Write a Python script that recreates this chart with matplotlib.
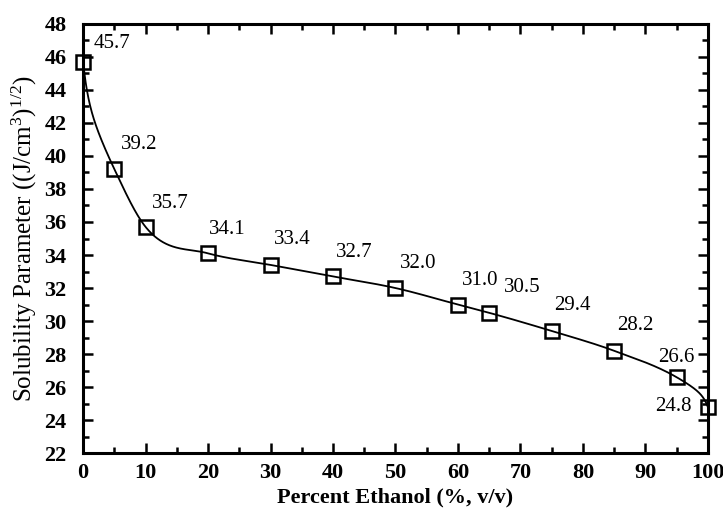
import numpy as np
import matplotlib
matplotlib.use("Agg")
import matplotlib.pyplot as plt

plt.rcParams["font.family"] = ["Liberation Serif", "DejaVu Serif"]
plt.rcParams["mathtext.fontset"] = "custom"
plt.rcParams["mathtext.rm"] = "Liberation Serif"
plt.rcParams["mathtext.it"] = "Liberation Serif:italic"

# data
ethanol_pct = [0, 5, 10, 20, 30, 40, 50, 60, 65, 75, 85, 95, 100]
solubility = [45.7, 39.2, 35.7, 34.1, 33.4, 32.7, 32.0, 31.0, 30.5, 29.4, 28.2, 26.6, 24.8]
point_labels = ["45.7", "39.2", "35.7", "34.1", "33.4", "32.7", "32.0",
                "31.0", "30.5", "29.4", "28.2", "26.6", "24.8"]

# label offsets in points (dx, dy)
label_offsets = [(21, 13), (18, 18), (18, 17), (14, 17), (16, 18), (15, 17), (16, 18),
                 (16, 17), (24, 18), (15, 18), (15, 18), (0, 14), (-25, 0)]


def monotone_hermite(x, y, xs):
    # Fritsch-Carlson: three-point slopes, limited so no overshoot
    x = np.asarray(x, float)
    y = np.asarray(y, float)
    n = len(x)
    h = np.diff(x)
    d = np.diff(y) / h
    m = np.zeros(n)
    m[1:-1] = (d[:-1] * h[1:] + d[1:] * h[:-1]) / (h[:-1] + h[1:])
    m[0] = ((2 * h[0] + h[1]) * d[0] - h[0] * d[1]) / (h[0] + h[1])
    m[-1] = ((2 * h[-1] + h[-2]) * d[-1] - h[-1] * d[-2]) / (h[-1] + h[-2])
    for k in range(n - 1):
        a = m[k] / d[k]
        b = m[k + 1] / d[k]
        r = a * a + b * b
        if r > 9:
            tau = 3 / np.sqrt(r)
            m[k] = tau * a * d[k]
            m[k + 1] = tau * b * d[k]
    idx = np.clip(np.searchsorted(x, xs) - 1, 0, n - 2)
    t = (xs - x[idx]) / h[idx]
    h00 = 2 * t**3 - 3 * t**2 + 1
    h10 = t**3 - 2 * t**2 + t
    h01 = -2 * t**3 + 3 * t**2
    h11 = t**3 - t**2
    return (h00 * y[idx] + h10 * h[idx] * m[idx]
            + h01 * y[idx + 1] + h11 * h[idx] * m[idx + 1])


def warp(x, b=2.0, s=0.8):
    # stretch only the last percent or so at each end, so the curve dives there
    x = np.asarray(x, float)
    return x - b * np.exp(-x / s) + b * np.exp(-(100 - x) / s)


def main() -> None:
    fig = plt.figure(figsize=(7.23, 5.08), dpi=100)
    ax = fig.add_axes([0.115, 0.108, 0.864, 0.845])

    xs = np.linspace(0, 100, 2000)
    ys = monotone_hermite(warp(ethanol_pct), solubility, warp(xs))
    ax.plot(xs, ys, color="black", linewidth=1.3)
    ax.plot(ethanol_pct, solubility, "s", markersize=9.5, markerfacecolor="none",
            markeredgecolor="black", markeredgewidth=1.8, clip_on=False, zorder=5)

    for xv, yv, lab, off in zip(ethanol_pct, solubility, point_labels, label_offsets):
        ax.annotate(lab, (xv, yv), xytext=off, textcoords="offset points",
                    ha="center", va="center", fontsize=15)

    ax.set_xlim(0, 100)
    ax.set_ylim(22, 48)
    ax.set_xticks(np.arange(0, 101, 10))
    ax.set_xticks(np.arange(0, 101, 5), minor=True)
    ax.set_yticks(np.arange(22, 49, 2))
    ax.set_yticks(np.arange(22, 49, 1), minor=True)
    ax.tick_params(which="both", direction="in", top=True, right=True, width=1.8)
    ax.tick_params(which="major", length=7)
    ax.tick_params(which="minor", length=4)
    ax.tick_params(axis="x", which="major", pad=7)
    ax.tick_params(axis="y", which="major", pad=12)
    for lab in ax.get_xticklabels() + ax.get_yticklabels():
        lab.set_fontsize(16)
        lab.set_fontweight("bold")
    for sp in ax.spines.values():
        sp.set_linewidth(2.2)

    ax.set_xlabel("Percent Ethanol (%, v/v)", fontsize=16, fontweight="bold", labelpad=3)
    ax.set_ylabel(r"Solubility Parameter ((J/cm$^{3}$)$^{1/2}$)", fontsize=18, labelpad=4)

    fig.savefig("out.png", dpi=100)


if __name__ == "__main__":
    main()
